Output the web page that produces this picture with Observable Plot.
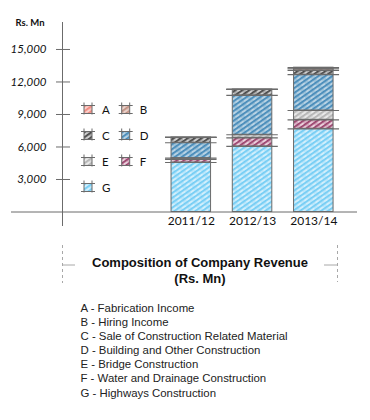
<!DOCTYPE html>
<html>
<head>
<meta charset="utf-8">
<script src="https://cdn.jsdelivr.net/npm/d3@7"></script>
<script src="https://cdn.jsdelivr.net/npm/@observablehq/plot@0.6"></script>
<style>
  html, body { margin: 0; padding: 0; background: #fff; }
  #wrap { position: relative; width: 370px; height: 420px; overflow: hidden; font-family: "Liberation Sans", Arial, sans-serif; }
  #chart { position: absolute; left: 0; top: 0; }
  #overlay { position: absolute; left: 0; top: 0; pointer-events: none; }
  #title { position: absolute; left: 60px; width: 280px; top: 255px; text-align: center; font-weight: bold; font-size: 13px; line-height: 15.6px; color: #111; }
  #keys { position: absolute; left: 80.5px; top: 301px; font-size: 11.4px; line-height: 14.1px; color: #222; }
</style>
</head>
<body>
<div id="wrap">
  <div id="chart"></div>
  <svg id="overlay" width="370" height="300"></svg>
  <div id="title">Composition of Company Revenue<br>(Rs. Mn)</div>
  <div id="keys"></div>
</div>
<script>
// ---- data ----
const years = ["2011/12", "2012/13", "2013/14"];
// stack order, bottom to top
const stackCodes = ["G", "F", "E", "D", "C", "B", "A"];
const valuesG = [4570, 6050, 7680];
const valuesF = [280, 800, 830];
const valuesE = [120, 280, 860];
const valuesD = [1420, 3630, 3300];
const valuesC = [490, 550, 400];
const valuesB = [0, 0, 150];
const valuesA = [0, 0, 100];
const legendCodes = ["A", "B", "C", "D", "E", "F", "G"];
const legendNames = [
  "Fabrication Income",
  "Hiring Income",
  "Sale of Construction Related Material",
  "Building and Other Construction",
  "Bridge Construction",
  "Water and Drainage Construction",
  "Highways Construction"
];
const yTicks = [3000, 6000, 9000, 12000, 15000];
const yUnit = "Rs. Mn";

const seriesByCode = {G: valuesG, F: valuesF, E: valuesE, D: valuesD, C: valuesC, B: valuesB, A: valuesA};
const data = [];
years.forEach((year, i) => {
  stackCodes.forEach(code => data.push({year, code, value: seriesByCode[code][i]}));
});

// ---- hatch patterns (styles) ----
const hatch = {
  A: {bg: "#fbd0cb", fg: "#ef7b70"},
  B: {bg: "#ead3cc", fg: "#b98576"},
  C: {bg: "#cfcfcf", fg: "#2e2e2e"},
  D: {bg: "#b9d3e4", fg: "#2f7db0"},
  E: {bg: "#e9e9e9", fg: "#a9a9a9"},
  F: {bg: "#ebd0dc", fg: "#8a2656"},
  G: {bg: "#d2effc", fg: "#62c6f2"}
};
const defsSvg = d3.select("body").append("svg")
  .attr("width", 0).attr("height", 0)
  .style("position", "absolute").style("left", 0).style("top", 0);
const defs = defsSvg.append("defs");
for (const code of legendCodes) {
  const p = defs.append("pattern")
    .attr("id", "hatch-" + code)
    .attr("patternUnits", "userSpaceOnUse")
    .attr("width", 8).attr("height", 4)
    .attr("patternTransform", "rotate(-35)");
  p.append("rect").attr("width", 8).attr("height", 4).attr("fill", hatch[code].bg);
  p.append("rect").attr("x", 0).attr("y", 0).attr("width", 8).attr("height", 1.8).attr("fill", hatch[code].fg).attr("opacity", 0.85);
  p.append("rect").attr("x", 2).attr("y", 2.6).attr("width", 4).attr("height", 0.8).attr("fill", hatch[code].fg).attr("opacity", 0.5);
}

// ---- chart ----
const axisGray = "#6b6b6b";
const chart = Plot.plot({
  width: 370,
  height: 240,
  marginLeft: 62,
  marginRight: 13,
  marginTop: 22,
  marginBottom: 28.5,
  x: {domain: years, range: [149.3, 354.8], paddingInner: 0.355, paddingOuter: 0.355, round: false, axis: null},
  y: {domain: [0, 17490], axis: null},
  color: {domain: legendCodes, range: legendCodes.map(c => `url(#hatch-${c})`)},
  style: {fontFamily: "Lato, sans-serif", fontSize: "11px", color: "#111", background: "transparent"},
  marks: [
    Plot.frame({anchor: "left", stroke: axisGray, strokeOpacity: 1, insetBottom: -13.5}),
    Plot.ruleY(yTicks, {stroke: axisGray, insetLeft: -6, insetRight: 287}),
    Plot.axisY(yTicks, {tickSize: 0, tickPadding: 16, tickFormat: d3.format(","), label: null, fontSize: 11.5, fontStyle: "italic"}),
    Plot.barY(data, {x: "year", y: "value", fill: "code", stroke: axisGray, strokeWidth: 1}),
    Plot.tickY(data, Plot.stackY2({x: "year", y: "value", stroke: axisGray, strokeWidth: 1.2, insetLeft: -6, insetRight: -6})),
    Plot.ruleY([0], {stroke: axisGray, insetLeft: -51}),
    Plot.axisX({tickSize: 0, tickPadding: 4, label: null, fontSize: 12}),
    Plot.text([yUnit], {text: d => d, frameAnchor: "top-left", dx: -47, dy: 0, textAnchor: "start", lineAnchor: "middle", fontSize: 9.5, fontWeight: "bold"})
  ]
});
document.getElementById("chart").appendChild(chart);

// ---- in-chart legend & decorations ----
const ov = d3.select("#overlay");
legendCodes.forEach((code, i) => {
  const col = i % 2, row = Math.floor(i / 2);
  const x0 = 84 + col * 37.7, yc = 109.5 + row * 26;
  const g = ov.append("g").attr("transform", `translate(${x0},${yc - 4})`);
  g.append("rect").attr("width", 8).attr("height", 8).attr("fill", `url(#hatch-${code})`);
  const ln = (x1, y1, x2, y2) => g.append("line").attr("x1", x1).attr("y1", y1).attr("x2", x2).attr("y2", y2).attr("stroke", axisGray).attr("stroke-width", 1);
  ln(-3, 0, 11, 0); ln(-3, 8, 11, 8); ln(0, -3, 0, 9); ln(8, -3, 8, 9);
  ov.append("text").attr("x", x0 + 18).attr("y", yc).attr("dy", "0.35em")
    .attr("font-family", "Lato, sans-serif").attr("font-size", 11.5).attr("fill", "#111").text(code);
});
const dash = (x1, y1, x2, y2, da) => ov.append("line").attr("x1", x1).attr("y1", y1).attr("x2", x2).attr("y2", y2)
  .attr("stroke", "#a8a8a8").attr("stroke-width", 1).attr("stroke-dasharray", da);
dash(62.5, 245, 62.5, 283, "3,3");
dash(62.5, 265, 75, 265, null);
dash(337.5, 245, 337.5, 282, "3,3");
dash(324, 265, 337.5, 265, null);

// ---- key list ----
const keys = d3.select("#keys");
legendCodes.forEach((code, i) => {
  keys.append("div").text(`${code} - ${legendNames[i]}`);
});
</script>
</body>
</html>
